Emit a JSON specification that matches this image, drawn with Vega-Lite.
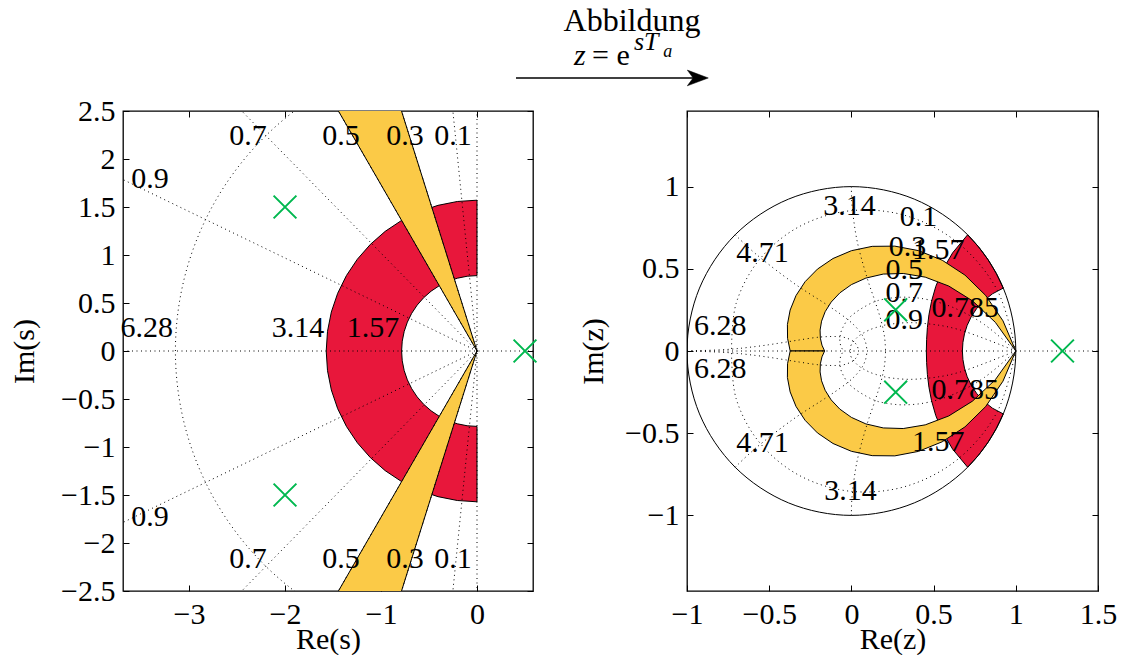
{
"$schema":"https://vega.github.io/schema/vega-lite/v6.json",
"background":"white",
"padding":{"left":8,"top":4,"right":5,"bottom":0},
"bounds":"flush",
"spacing":154,
"config":{
 "view":{"stroke":"black","strokeWidth":1.3},
 "axis":{"domain":false,"grid":false,"ticks":true,"tickColor":"black","tickSize":-6,"tickWidth":1,"labelFont":"Liberation Serif","labelFontSize":30,"labelColor":"black","labelPadding":14,"titleFont":"Liberation Serif","titleFontSize":30,"titleFontWeight":"normal","titleColor":"black","labelFlush":false,"labelOverlap":false},
 "axisX":{"titlePadding":-5},
 "axisY":{"titlePadding":14}
},
"datasets":{
 "sRed":[
  {"o":0,"re":0,"im":1.5708},{"o":1,"re":-0.2050,"im":1.5573},{"o":2,"re":-0.4065,"im":1.5172},{"o":3,"re":-0.6011,"im":1.4512},{"o":4,"re":-0.7854,"im":1.3603},{"o":5,"re":-0.9563,"im":1.2463},{"o":6,"re":-1.1107,"im":1.1107},{"o":7,"re":-1.2463,"im":0.9563},{"o":8,"re":-1.3603,"im":0.7854},{"o":9,"re":-1.4512,"im":0.6011},{"o":10,"re":-1.5172,"im":0.4065},{"o":11,"re":-1.5573,"im":0.2050},{"o":12,"re":-1.5708,"im":0},{"o":13,"re":-1.5573,"im":-0.2050},{"o":14,"re":-1.5172,"im":-0.4065},{"o":15,"re":-1.4512,"im":-0.6011},{"o":16,"re":-1.3603,"im":-0.7854},{"o":17,"re":-1.2463,"im":-0.9563},{"o":18,"re":-1.1107,"im":-1.1107},{"o":19,"re":-0.9563,"im":-1.2463},{"o":20,"re":-0.7854,"im":-1.3603},{"o":21,"re":-0.6011,"im":-1.4512},{"o":22,"re":-0.4065,"im":-1.5172},{"o":23,"re":-0.2050,"im":-1.5573},{"o":24,"re":0,"im":-1.5708},
  {"o":25,"re":0,"im":-0.7854},{"o":26,"re":-0.1025,"im":-0.7787},{"o":27,"re":-0.2033,"im":-0.7586},{"o":28,"re":-0.3006,"im":-0.7256},{"o":29,"re":-0.3927,"im":-0.6802},{"o":30,"re":-0.4782,"im":-0.6232},{"o":31,"re":-0.5554,"im":-0.5554},{"o":32,"re":-0.6232,"im":-0.4782},{"o":33,"re":-0.6802,"im":-0.3927},{"o":34,"re":-0.7256,"im":-0.3006},{"o":35,"re":-0.7586,"im":-0.2033},{"o":36,"re":-0.7787,"im":-0.1025},{"o":37,"re":-0.7854,"im":0},{"o":38,"re":-0.7787,"im":0.1025},{"o":39,"re":-0.7586,"im":0.2033},{"o":40,"re":-0.7256,"im":0.3006},{"o":41,"re":-0.6802,"im":0.3927},{"o":42,"re":-0.6232,"im":0.4782},{"o":43,"re":-0.5554,"im":0.5554},{"o":44,"re":-0.4782,"im":0.6232},{"o":45,"re":-0.3927,"im":0.6802},{"o":46,"re":-0.3006,"im":0.7256},{"o":47,"re":-0.2033,"im":0.7586},{"o":48,"re":-0.1025,"im":0.7787},{"o":49,"re":0,"im":0.7854},{"o":50,"re":0,"im":1.5708}
 ],
 "sYel":[
  {"g":"u","o":0,"re":0,"im":0},{"g":"u","o":1,"re":-2.1,"im":6.678},{"g":"u","o":2,"re":-3.5,"im":6.062},{"g":"u","o":3,"re":0,"im":0},
  {"g":"l","o":0,"re":0,"im":0},{"g":"l","o":1,"re":-2.1,"im":-6.678},{"g":"l","o":2,"re":-3.5,"im":-6.062},{"g":"l","o":3,"re":0,"im":0}
 ],
 "sGrid":[
  {"g":"re","o":0,"re":-8,"im":0},{"g":"re","o":1,"re":8,"im":0},
  {"g":"im","o":0,"re":0,"im":-8},{"g":"im","o":1,"re":0,"im":8},
  {"g":"z1u","o":0,"re":0,"im":0},{"g":"z1u","o":1,"re":-0.8,"im":7.96},
  {"g":"z1l","o":0,"re":0,"im":0},{"g":"z1l","o":1,"re":-0.8,"im":-7.96},
  {"g":"z3u","o":0,"re":0,"im":0},{"g":"z3u","o":1,"re":-2.4,"im":7.631},
  {"g":"z3l","o":0,"re":0,"im":0},{"g":"z3l","o":1,"re":-2.4,"im":-7.631},
  {"g":"z5u","o":0,"re":0,"im":0},{"g":"z5u","o":1,"re":-4,"im":6.928},
  {"g":"z5l","o":0,"re":0,"im":0},{"g":"z5l","o":1,"re":-4,"im":-6.928},
  {"g":"z7u","o":0,"re":0,"im":0},{"g":"z7u","o":1,"re":-5.6,"im":5.713},
  {"g":"z7l","o":0,"re":0,"im":0},{"g":"z7l","o":1,"re":-5.6,"im":-5.713},
  {"g":"z9u","o":0,"re":0,"im":0},{"g":"z9u","o":1,"re":-7.2,"im":3.487},
  {"g":"z9l","o":0,"re":0,"im":0},{"g":"z9l","o":1,"re":-7.2,"im":-3.487},
  {"g":"w3","o":0,"re":0,"im":3.1416},{"g":"w3","o":1,"re":-0.8131,"im":3.0345},{"g":"w3","o":2,"re":-1.5708,"im":2.7207},{"g":"w3","o":3,"re":-2.2214,"im":2.2214},{"g":"w3","o":4,"re":-2.7207,"im":1.5708},{"g":"w3","o":5,"re":-3.0345,"im":0.8131},{"g":"w3","o":6,"re":-3.1416,"im":0},{"g":"w3","o":7,"re":-3.0345,"im":-0.8131},{"g":"w3","o":8,"re":-2.7207,"im":-1.5708},{"g":"w3","o":9,"re":-2.2214,"im":-2.2214},{"g":"w3","o":10,"re":-1.5708,"im":-2.7207},{"g":"w3","o":11,"re":-0.8131,"im":-3.0345},{"g":"w3","o":12,"re":0,"im":-3.1416}
 ],
 "sLab":[
  {"t":"0.9","re":-3.406,"im":1.79},{"t":"0.7","re":-2.385,"im":2.24},{"t":"0.5","re":-1.417,"im":2.24},{"t":"0.3","re":-0.75,"im":2.24},{"t":"0.1","re":-0.25,"im":2.24},
  {"t":"0.9","re":-3.406,"im":-1.73},{"t":"0.7","re":-2.385,"im":-2.167},{"t":"0.5","re":-1.417,"im":-2.167},{"t":"0.3","re":-0.75,"im":-2.167},{"t":"0.1","re":-0.25,"im":-2.167},
  {"t":"6.28","re":-3.44,"im":0.24},{"t":"3.14","re":-1.865,"im":0.24},{"t":"1.57","re":-1.083,"im":0.24}
 ],
 "sPole":[{"re":-2,"im":1.5},{"re":-2,"im":-1.5},{"re":0.5,"im":0}],
 "hdr":[
  {"k":"title","t":"Abbildung","re":1.615,"im":3.333},
  {"k":"z","t":"z","re":1.01,"im":2.979},
  {"k":"eq","t":"= e","re":1.198,"im":2.979},
  {"k":"sup","t":"sT","re":1.635,"im":3.135},
  {"k":"sub","t":"a","re":1.94,"im":3.0625}
 ],
 "arrow":[{"re":0.406,"re2":2.3,"im":2.844}],
 "arrowHead":[{"re":2.3,"im":2.844}],
 "zRed":[
  {"o":0,"re":0.9239,"im":0.3827},{"o":1,"re":0.8819,"im":0.4714},{"o":2,"re":0.8315,"im":0.5556},{"o":3,"re":0.7730,"im":0.6344},{"o":4,"re":0.7071,"im":0.7071},{"o":5,"re":0.6159,"im":0.5974},{"o":6,"re":0.5539,"im":0.4913},{"o":7,"re":0.5132,"im":0.3928},{"o":8,"re":0.4876,"im":0.3026},{"o":9,"re":0.4716,"im":0.2200},{"o":10,"re":0.4623,"im":0.1433},{"o":11,"re":0.4575,"im":0.0706},{"o":12,"re":0.4559,"im":0},{"o":13,"re":0.4575,"im":-0.0706},{"o":14,"re":0.4623,"im":-0.1433},{"o":15,"re":0.4716,"im":-0.2200},{"o":16,"re":0.4876,"im":-0.3026},{"o":17,"re":0.5132,"im":-0.3928},{"o":18,"re":0.5539,"im":-0.4913},{"o":19,"re":0.6159,"im":-0.5974},{"o":20,"re":0.7071,"im":-0.7071},{"o":21,"re":0.7730,"im":-0.6344},{"o":22,"re":0.8315,"im":-0.5556},{"o":23,"re":0.8819,"im":-0.4714},{"o":24,"re":0.9239,"im":-0.3827},{"o":25,"re":0.8584,"im":-0.3481},{"o":26,"re":0.8045,"im":-0.3054},{"o":27,"re":0.7616,"im":-0.2578},{"o":28,"re":0.7285,"im":-0.2076},{"o":29,"re":0.7043,"im":-0.1562},{"o":30,"re":0.6878,"im":-0.1041},{"o":31,"re":0.6783,"im":-0.0520},{"o":32,"re":0.6752,"im":0},{"o":33,"re":0.6783,"im":0.0520},{"o":34,"re":0.6878,"im":0.1041},{"o":35,"re":0.7043,"im":0.1562},{"o":36,"re":0.7285,"im":0.2076},{"o":37,"re":0.7616,"im":0.2578},{"o":38,"re":0.8045,"im":0.3054},{"o":39,"re":0.8584,"im":0.3481},{"o":40,"re":0.9239,"im":0.3827}
 ],
 "zYel":[
  {"g":"u","o":0,"re":1,"im":0},{"g":"u","o":1,"re":0.9221,"im":0.1834},{"g":"u","o":2,"re":0.8165,"im":0.3382},{"g":"u","o":3,"re":0.6909,"im":0.4616},{"g":"u","o":4,"re":0.5523,"im":0.5523},{"g":"u","o":5,"re":0.4080,"im":0.6107},{"g":"u","o":6,"re":0.2642,"im":0.6379},{"g":"u","o":7,"re":0.1266,"im":0.6366},{"g":"u","o":8,"re":0,"im":0.6102},{"g":"u","o":9,"re":-0.1119,"im":0.5627},{"g":"u","o":10,"re":-0.2064,"im":0.4983},{"g":"u","o":11,"re":-0.2817,"im":0.4216},{"g":"u","o":12,"re":-0.3370,"im":0.3370},{"g":"u","o":13,"re":-0.3726,"im":0.2490},{"g":"u","o":14,"re":-0.3892,"im":0.1612},{"g":"u","o":15,"re":-0.3884,"im":0.0773},{"g":"u","o":16,"re":-0.3723,"im":0},
  {"g":"u","o":17,"re":-0.1630,"im":0},{"g":"u","o":18,"re":-0.1791,"im":0.0356},{"g":"u","o":19,"re":-0.1889,"im":0.0783},{"g":"u","o":20,"re":-0.1905,"im":0.1273},{"g":"u","o":21,"re":-0.1814,"im":0.1814},{"g":"u","o":22,"re":-0.1597,"im":0.2390},{"g":"u","o":23,"re":-0.1232,"im":0.2974},{"g":"u","o":24,"re":-0.0703,"im":0.3536},{"g":"u","o":25,"re":0,"im":0.4038},{"g":"u","o":26,"re":0.0882,"im":0.4436},{"g":"u","o":27,"re":0.1938,"im":0.4680},{"g":"u","o":28,"re":0.3152,"im":0.4717},{"g":"u","o":29,"re":0.4493,"im":0.4493},{"g":"u","o":30,"re":0.5918,"im":0.3954},{"g":"u","o":31,"re":0.7365,"im":0.3051},{"g":"u","o":32,"re":0.8757,"im":0.1742},{"g":"u","o":33,"re":1,"im":0},
  {"g":"l","o":0,"re":1,"im":0},{"g":"l","o":1,"re":0.9221,"im":-0.1834},{"g":"l","o":2,"re":0.8165,"im":-0.3382},{"g":"l","o":3,"re":0.6909,"im":-0.4616},{"g":"l","o":4,"re":0.5523,"im":-0.5523},{"g":"l","o":5,"re":0.4080,"im":-0.6107},{"g":"l","o":6,"re":0.2642,"im":-0.6379},{"g":"l","o":7,"re":0.1266,"im":-0.6366},{"g":"l","o":8,"re":0,"im":-0.6102},{"g":"l","o":9,"re":-0.1119,"im":-0.5627},{"g":"l","o":10,"re":-0.2064,"im":-0.4983},{"g":"l","o":11,"re":-0.2817,"im":-0.4216},{"g":"l","o":12,"re":-0.3370,"im":-0.3370},{"g":"l","o":13,"re":-0.3726,"im":-0.2490},{"g":"l","o":14,"re":-0.3892,"im":-0.1612},{"g":"l","o":15,"re":-0.3884,"im":-0.0773},{"g":"l","o":16,"re":-0.3723,"im":0},
  {"g":"l","o":17,"re":-0.1630,"im":0},{"g":"l","o":18,"re":-0.1791,"im":-0.0356},{"g":"l","o":19,"re":-0.1889,"im":-0.0783},{"g":"l","o":20,"re":-0.1905,"im":-0.1273},{"g":"l","o":21,"re":-0.1814,"im":-0.1814},{"g":"l","o":22,"re":-0.1597,"im":-0.2390},{"g":"l","o":23,"re":-0.1232,"im":-0.2974},{"g":"l","o":24,"re":-0.0703,"im":-0.3536},{"g":"l","o":25,"re":0,"im":-0.4038},{"g":"l","o":26,"re":0.0882,"im":-0.4436},{"g":"l","o":27,"re":0.1938,"im":-0.4680},{"g":"l","o":28,"re":0.3152,"im":-0.4717},{"g":"l","o":29,"re":0.4493,"im":-0.4493},{"g":"l","o":30,"re":0.5918,"im":-0.3954},{"g":"l","o":31,"re":0.7365,"im":-0.3051},{"g":"l","o":32,"re":0.8757,"im":-0.1742},{"g":"l","o":33,"re":1,"im":0}
 ],
 "zCirc":[
  {"o":0,"re":1,"im":0},{"o":1,"re":0.9239,"im":0.3827},{"o":2,"re":0.7071,"im":0.7071},{"o":3,"re":0.3827,"im":0.9239},{"o":4,"re":0,"im":1},{"o":5,"re":-0.3827,"im":0.9239},{"o":6,"re":-0.7071,"im":0.7071},{"o":7,"re":-0.9239,"im":0.3827},{"o":8,"re":-1,"im":0},{"o":9,"re":-0.9239,"im":-0.3827},{"o":10,"re":-0.7071,"im":-0.7071},{"o":11,"re":-0.3827,"im":-0.9239},{"o":12,"re":0,"im":-1},{"o":13,"re":0.3827,"im":-0.9239},{"o":14,"re":0.7071,"im":-0.7071},{"o":15,"re":0.9239,"im":-0.3827}
 ],
 "zGrid":[
  {"g":"re","o":0,"re":-1,"im":0},{"g":"re","o":1,"re":1.5,"im":0},
  {"g":"d1u","o":0,"re":1,"im":0},{"g":"d1u","o":1,"re":0.8881,"im":0.3679},{"g":"d1u","o":2,"re":0.6534,"im":0.6534},{"g":"d1u","o":3,"re":0.3399,"im":0.8207},{"g":"d1u","o":4,"re":0,"im":0.8539},{"g":"d1u","o":5,"re":-0.3142,"im":0.7584},{"g":"d1u","o":6,"re":-0.5580,"im":0.5580},{"g":"d1u","o":7,"re":-0.7009,"im":0.2903},{"g":"d1u","o":8,"re":-0.7293,"im":0},
  {"g":"d1l","o":0,"re":1,"im":0},{"g":"d1l","o":1,"re":0.8881,"im":-0.3679},{"g":"d1l","o":2,"re":0.6534,"im":-0.6534},{"g":"d1l","o":3,"re":0.3399,"im":-0.8207},{"g":"d1l","o":4,"re":0,"im":-0.8539},{"g":"d1l","o":5,"re":-0.3142,"im":-0.7584},{"g":"d1l","o":6,"re":-0.5580,"im":-0.5580},{"g":"d1l","o":7,"re":-0.7009,"im":-0.2903},{"g":"d1l","o":8,"re":-0.7293,"im":0},
  {"g":"d7u","o":0,"re":1,"im":0},{"g":"d7u","o":1,"re":0.8091,"im":0.1609},{"g":"d7u","o":2,"re":0.6287,"im":0.2604},{"g":"d7u","o":3,"re":0.4668,"im":0.3119},{"g":"d7u","o":4,"re":0.3275,"im":0.3275},{"g":"d7u","o":5,"re":0.2122,"im":0.3176},{"g":"d7u","o":6,"re":0.1206,"im":0.2911},{"g":"d7u","o":7,"re":0,"im":0.2145},{"g":"d7u","o":8,"re":-0.0559,"im":0.1349},{"g":"d7u","o":9,"re":-0.0702,"im":0.0702},{"g":"d7u","o":10,"re":-0.0625,"im":0.0259},{"g":"d7u","o":11,"re":-0.0460,"im":0},
  {"g":"d7l","o":0,"re":1,"im":0},{"g":"d7l","o":1,"re":0.8091,"im":-0.1609},{"g":"d7l","o":2,"re":0.6287,"im":-0.2604},{"g":"d7l","o":3,"re":0.4668,"im":-0.3119},{"g":"d7l","o":4,"re":0.3275,"im":-0.3275},{"g":"d7l","o":5,"re":0.2122,"im":-0.3176},{"g":"d7l","o":6,"re":0.1206,"im":-0.2911},{"g":"d7l","o":7,"re":0,"im":-0.2145},{"g":"d7l","o":8,"re":-0.0559,"im":-0.1349},{"g":"d7l","o":9,"re":-0.0702,"im":-0.0702},{"g":"d7l","o":10,"re":-0.0625,"im":-0.0259},{"g":"d7l","o":11,"re":-0.0460,"im":0},
  {"g":"d9u","o":0,"re":1,"im":0},{"g":"d9u","o":1,"re":0.6539,"im":0.1301},{"g":"d9u","o":2,"re":0.4107,"im":0.1701},{"g":"d9u","o":3,"re":0.2465,"im":0.1647},{"g":"d9u","o":4,"re":0.1397,"im":0.1397},{"g":"d9u","o":5,"re":0.0732,"im":0.1095},{"g":"d9u","o":6,"re":0.0336,"im":0.0811},{"g":"d9u","o":7,"re":0,"im":0.0390},{"g":"d9u","o":8,"re":-0.0066,"im":0.0160},{"g":"d9u","o":9,"re":-0.0054,"im":0.0054},
  {"g":"d9l","o":0,"re":1,"im":0},{"g":"d9l","o":1,"re":0.6539,"im":-0.1301},{"g":"d9l","o":2,"re":0.4107,"im":-0.1701},{"g":"d9l","o":3,"re":0.2465,"im":-0.1647},{"g":"d9l","o":4,"re":0.1397,"im":-0.1397},{"g":"d9l","o":5,"re":0.0732,"im":-0.1095},{"g":"d9l","o":6,"re":0.0336,"im":-0.0811},{"g":"d9l","o":7,"re":0,"im":-0.0390},{"g":"d9l","o":8,"re":-0.0066,"im":-0.0160},{"g":"d9l","o":9,"re":-0.0054,"im":-0.0054},
  {"g":"w3u","o":0,"re":0,"im":1},{"g":"w3u","o":1,"re":0.0052,"im":0.8721},{"g":"w3u","o":2,"re":0.0356,"im":0.6650},{"g":"w3u","o":3,"re":0.0953,"im":0.4458},{"g":"w3u","o":4,"re":0.1462,"im":0.2951},{"g":"w3u","o":5,"re":0.1814,"im":0.1814},{"g":"w3u","o":6,"re":0.2014,"im":0.0867},{"g":"w3u","o":7,"re":0.2079,"im":0},
  {"g":"w3l","o":0,"re":0,"im":-1},{"g":"w3l","o":1,"re":0.0052,"im":-0.8721},{"g":"w3l","o":2,"re":0.0356,"im":-0.6650},{"g":"w3l","o":3,"re":0.0953,"im":-0.4458},{"g":"w3l","o":4,"re":0.1462,"im":-0.2951},{"g":"w3l","o":5,"re":0.1814,"im":-0.1814},{"g":"w3l","o":6,"re":0.2014,"im":-0.0867},{"g":"w3l","o":7,"re":0.2079,"im":0},
  {"g":"w4u","o":0,"re":-0.7071,"im":0.7071},{"g":"w4u","o":1,"re":-0.5706,"im":0.5810},{"g":"w4u","o":2,"re":-0.3523,"im":0.4137},{"g":"w4u","o":3,"re":-0.1393,"im":0.2746},{"g":"w4u","o":4,"re":-0.0180,"im":0.1881},{"g":"w4u","o":5,"re":0.0497,"im":0.1201},{"g":"w4u","o":6,"re":0.0842,"im":0.0588},{"g":"w4u","o":7,"re":0.0948,"im":0},
  {"g":"w4l","o":0,"re":-0.7071,"im":-0.7071},{"g":"w4l","o":1,"re":-0.5706,"im":-0.5810},{"g":"w4l","o":2,"re":-0.3523,"im":-0.4137},{"g":"w4l","o":3,"re":-0.1393,"im":-0.2746},{"g":"w4l","o":4,"re":-0.0180,"im":-0.1881},{"g":"w4l","o":5,"re":0.0497,"im":-0.1201},{"g":"w4l","o":6,"re":0.0842,"im":-0.0588},{"g":"w4l","o":7,"re":0.0948,"im":0},
  {"g":"w5u","o":0,"re":-1,"im":0},{"g":"w5u","o":1,"re":-0.7603,"im":0.0091},{"g":"w5u","o":2,"re":-0.5788,"im":0.0276},{"g":"w5u","o":3,"re":-0.4410,"im":0.0474},{"g":"w5u","o":4,"re":-0.3354,"im":0.0643},{"g":"w5u","o":5,"re":-0.1898,"im":0.0849},{"g":"w5u","o":6,"re":-0.0657,"im":0.0863},{"g":"w5u","o":7,"re":0,"im":0.0658},{"g":"w5u","o":8,"re":0.0331,"im":0.0349},{"g":"w5u","o":9,"re":0.0432,"im":0},
  {"g":"w5l","o":0,"re":-1,"im":0},{"g":"w5l","o":1,"re":-0.7603,"im":-0.0091},{"g":"w5l","o":2,"re":-0.5788,"im":-0.0276},{"g":"w5l","o":3,"re":-0.4410,"im":-0.0474},{"g":"w5l","o":4,"re":-0.3354,"im":-0.0643},{"g":"w5l","o":5,"re":-0.1898,"im":-0.0849},{"g":"w5l","o":6,"re":-0.0657,"im":-0.0863},{"g":"w5l","o":7,"re":0,"im":-0.0658},{"g":"w5l","o":8,"re":0.0331,"im":-0.0349},{"g":"w5l","o":9,"re":0.0432,"im":0}
 ],
 "zLab":[
  {"t":"3.14","re":-0.012,"im":0.882},{"t":"4.71","re":-0.541,"im":0.596},{"t":"6.28","re":-0.797,"im":0.152},
  {"t":"6.28","re":-0.797,"im":-0.109},{"t":"4.71","re":-0.541,"im":-0.56},{"t":"3.14","re":-0.006,"im":-0.852},
  {"t":"0.1","re":0.408,"im":0.815},{"t":"0.3","re":0.341,"im":0.633},{"t":"1.57","re":0.529,"im":0.614},{"t":"0.5","re":0.322,"im":0.493},{"t":"0.7","re":0.322,"im":0.353},{"t":"0.9","re":0.322,"im":0.189},
  {"t":"0.785","re":0.693,"im":0.262},{"t":"0.785","re":0.693,"im":-0.237},{"t":"1.57","re":0.529,"im":-0.554}
 ],
 "zPole":[{"re":0.2692,"im":0.2508},{"re":0.2692,"im":-0.2508},{"re":1.284,"im":0}]
},
"hconcat":[
 {
  "width":410,"height":480,
  "layer":[
   {
    "encoding":{
     "x":{"field":"re","type":"quantitative","scale":{"domain":[-3.6875,0.5833],"nice":false,"zero":false},"axis":{"values":[-3,-2,-1,0],"format":"~g","title":"Re(s)"}},
     "y":{"field":"im","type":"quantitative","scale":{"domain":[-2.5,2.5],"nice":false,"zero":false},"axis":{"values":[-2.5,-2,-1.5,-1,-0.5,0,0.5,1,1.5,2,2.5],"format":"~g","title":"Im(s)","titlePadding":21}}
    },
    "layer":[
     {"data":{"name":"sRed"},"mark":{"type":"line","interpolate":"linear","fill":"#e8173b","stroke":"black","strokeWidth":1,"clip":true},"encoding":{"order":{"field":"o","type":"quantitative"}}},
     {"data":{"name":"sYel"},"mark":{"type":"line","interpolate":"linear","fill":"#fbca47","stroke":"black","strokeWidth":1,"clip":true},"encoding":{"detail":{"field":"g"},"order":{"field":"o","type":"quantitative"}}},
     {"data":{"name":"sGrid"},"mark":{"type":"line","interpolate":"cardinal","stroke":"black","strokeWidth":1,"strokeDash":[1,3.5],"clip":true},"encoding":{"detail":{"field":"g"},"order":{"field":"o","type":"quantitative"}}},
     {"data":{"name":"sLab"},"mark":{"type":"text","font":"Liberation Serif","fontSize":30,"align":"center","baseline":"middle","fill":"black"},"encoding":{"text":{"field":"t"}}},
     {"data":{"name":"sPole"},"mark":{"type":"point","shape":"M-1,-1L1,1M-1,1L1,-1","size":520,"filled":false,"stroke":"#00b84f","strokeWidth":2,"opacity":1},"encoding":{}},
     {"data":{"name":"hdr"},"transform":[{"filter":"datum.k == 'title'"}],"mark":{"type":"text","font":"Liberation Serif","fontSize":32,"align":"center","baseline":"alphabetic","fill":"black","clip":false},"encoding":{"text":{"field":"t"}}},
     {"data":{"name":"hdr"},"transform":[{"filter":"datum.k == 'z'"}],"mark":{"type":"text","font":"Liberation Serif","fontSize":30,"fontStyle":"italic","align":"left","baseline":"alphabetic","fill":"black","clip":false},"encoding":{"text":{"field":"t"}}},
     {"data":{"name":"hdr"},"transform":[{"filter":"datum.k == 'eq'"}],"mark":{"type":"text","font":"Liberation Serif","fontSize":30,"align":"left","baseline":"alphabetic","fill":"black","clip":false},"encoding":{"text":{"field":"t"}}},
     {"data":{"name":"hdr"},"transform":[{"filter":"datum.k == 'sup'"}],"mark":{"type":"text","font":"Liberation Serif","fontSize":26,"fontStyle":"italic","align":"left","baseline":"alphabetic","fill":"black","clip":false},"encoding":{"text":{"field":"t"}}},
     {"data":{"name":"hdr"},"transform":[{"filter":"datum.k == 'sub'"}],"mark":{"type":"text","font":"Liberation Serif","fontSize":18,"fontStyle":"italic","align":"left","baseline":"alphabetic","fill":"black","clip":false},"encoding":{"text":{"field":"t"}}},
     {"data":{"name":"arrow"},"mark":{"type":"rule","stroke":"black","strokeWidth":1.5,"clip":false},"encoding":{"x2":{"field":"re2"}}},
     {"data":{"name":"arrowHead"},"mark":{"type":"point","shape":"M1,0L-1,-0.75L-0.45,0L-1,0.75Z","size":440,"filled":true,"fill":"black","stroke":"black","strokeWidth":0.5,"opacity":1,"clip":false},"encoding":{}}
    ]
   },
   {
    "data":{"name":"sPole"},
    "mark":{"type":"point","opacity":0},
    "encoding":{
     "x":{"field":"re","type":"quantitative","scale":{"domain":[-3.6875,0.5833],"nice":false,"zero":false},"axis":{"orient":"top","values":[-3,-2,-1,0],"labels":false,"title":null}},
     "y":{"field":"im","type":"quantitative","scale":{"domain":[-2.5,2.5],"nice":false,"zero":false},"axis":{"orient":"right","values":[-2.5,-2,-1.5,-1,-0.5,0,0.5,1,1.5,2,2.5],"labels":false,"title":null}}
    }
   }
  ],
  "resolve":{"axis":{"x":"independent","y":"independent"}}
 },
 {
  "width":411,"height":480,
  "layer":[
   {
    "encoding":{
     "x":{"field":"re","type":"quantitative","scale":{"domain":[-1,1.5],"nice":false,"zero":false},"axis":{"values":[-1,-0.5,0,0.5,1,1.5],"format":"~g","title":"Re(z)"}},
     "y":{"field":"im","type":"quantitative","scale":{"domain":[-1.46,1.46],"nice":false,"zero":false},"axis":{"values":[-1,-0.5,0,0.5,1],"format":"~g","title":"Im(z)","titlePadding":16}}
    },
    "layer":[
     {"data":{"name":"zRed"},"mark":{"type":"line","interpolate":"linear","fill":"#e8173b","stroke":"black","strokeWidth":1,"clip":true},"encoding":{"order":{"field":"o","type":"quantitative"}}},
     {"data":{"name":"zYel"},"mark":{"type":"line","interpolate":"linear","fill":"#fbca47","stroke":"black","strokeWidth":1,"clip":true},"encoding":{"detail":{"field":"g"},"order":{"field":"o","type":"quantitative"}}},
     {"data":{"name":"zCirc"},"mark":{"type":"line","interpolate":"cardinal-closed","stroke":"black","strokeWidth":1,"clip":true},"encoding":{"order":{"field":"o","type":"quantitative"}}},
     {"data":{"name":"zGrid"},"mark":{"type":"line","interpolate":"cardinal","stroke":"black","strokeWidth":1,"strokeDash":[1,3.5],"clip":true},"encoding":{"detail":{"field":"g"},"order":{"field":"o","type":"quantitative"}}},
     {"data":{"name":"zLab"},"mark":{"type":"text","font":"Liberation Serif","fontSize":30,"align":"center","baseline":"middle","fill":"black"},"encoding":{"text":{"field":"t"}}},
     {"data":{"name":"zPole"},"mark":{"type":"point","shape":"M-1,-1L1,1M-1,1L1,-1","size":520,"filled":false,"stroke":"#00b84f","strokeWidth":2,"opacity":1},"encoding":{}}
    ]
   },
   {
    "data":{"name":"zPole"},
    "mark":{"type":"point","opacity":0},
    "encoding":{
     "x":{"field":"re","type":"quantitative","scale":{"domain":[-1,1.5],"nice":false,"zero":false},"axis":{"orient":"top","values":[-1,-0.5,0,0.5,1,1.5],"labels":false,"title":null}},
     "y":{"field":"im","type":"quantitative","scale":{"domain":[-1.46,1.46],"nice":false,"zero":false},"axis":{"orient":"right","values":[-1,-0.5,0,0.5,1],"labels":false,"title":null}}
    }
   }
  ],
  "resolve":{"axis":{"x":"independent","y":"independent"}}
 }
]
}
